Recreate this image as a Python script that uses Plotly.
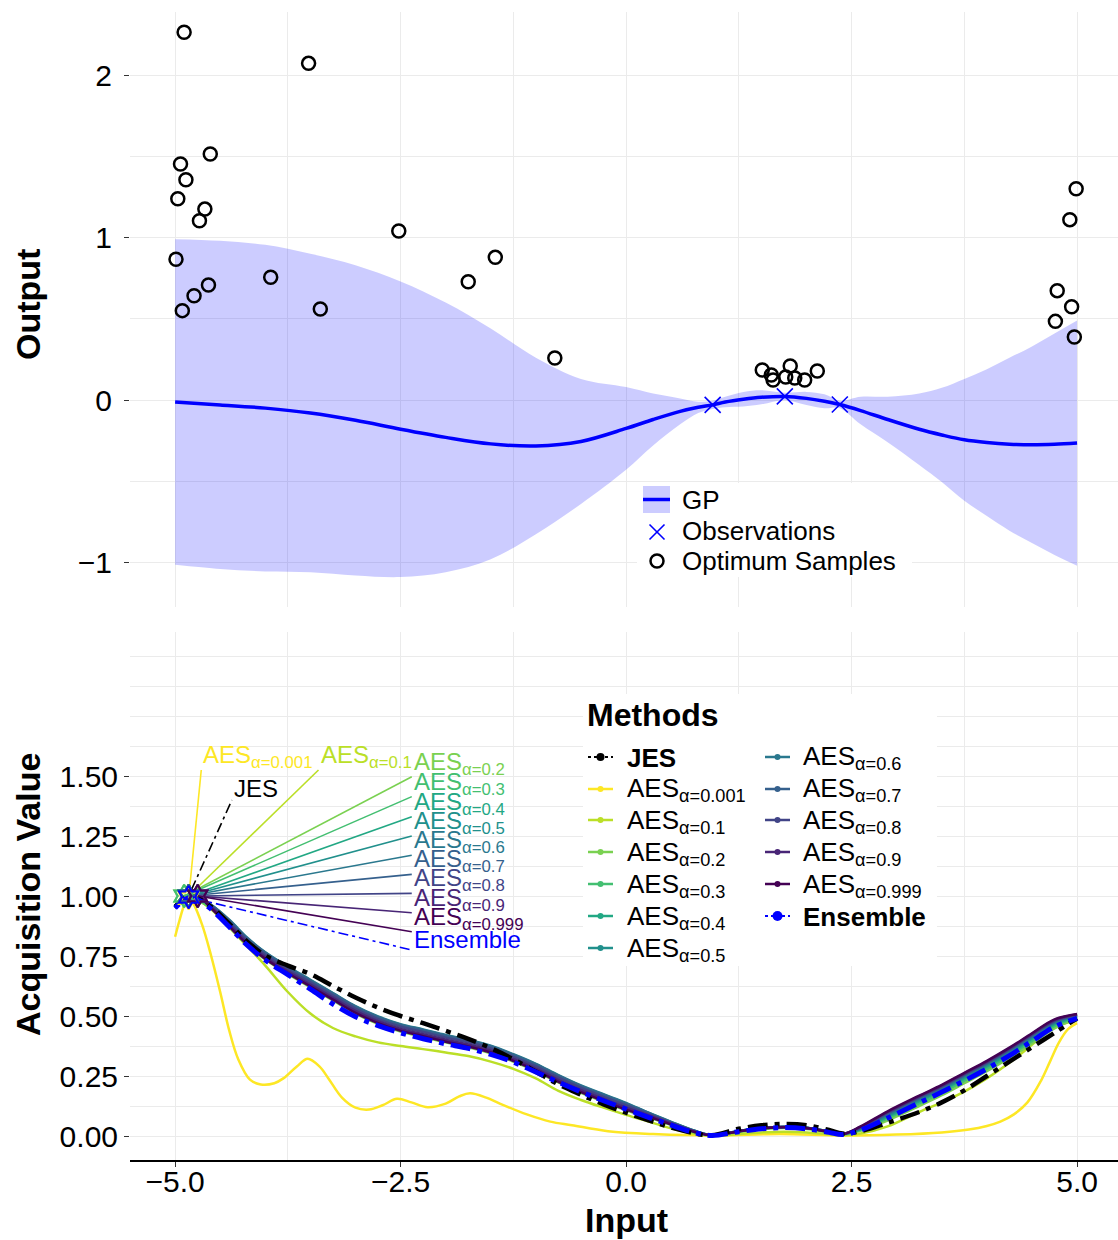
import numpy as np
import plotly.graph_objects as go

# ---------------- top panel data ----------------
gp_x = [-5.0, -4.5, -4.0, -3.5, -3.0, -2.5, -2.0, -1.5, -1.0, -0.5, 0.0, 0.3, 0.6, 0.8, 0.96,
        1.1, 1.3, 1.5, 1.76, 2.0, 2.2, 2.37, 2.6, 2.9, 3.25, 3.5, 3.75, 4.0, 4.25, 4.5, 4.75, 5.0]
gp_mean = [-0.012, -0.03, -0.05, -0.08, -0.125, -0.18, -0.23, -0.27, -0.283, -0.255, -0.175, -0.12,
           -0.07, -0.045, -0.03, -0.012, 0.005, 0.017, 0.022, 0.01, -0.008, -0.028, -0.065, -0.12,
           -0.18, -0.215, -0.245, -0.262, -0.272, -0.275, -0.272, -0.265]
gp_upper = [0.99, 0.98, 0.955, 0.9, 0.83, 0.73, 0.6, 0.44, 0.26, 0.13, 0.08, 0.04, 0.01, -0.01,
            -0.005, 0.02, 0.05, 0.06, 0.045, 0.05, 0.035, -0.005, 0.02, 0.02, 0.04, 0.075, 0.13,
            0.19, 0.26, 0.33, 0.41, 0.49]
gp_lower = [-1.014, -1.04, -1.055, -1.06, -1.08, -1.09, -1.06, -0.98, -0.826, -0.64, -0.43, -0.28,
            -0.15, -0.08, -0.055, -0.044, -0.04, -0.026, -0.001, -0.03, -0.051, -0.051, -0.15,
            -0.26, -0.4, -0.505, -0.62, -0.714, -0.804, -0.88, -0.954, -1.02]
obs_x = [0.96, 1.76, 2.37]
obs_y = [-0.03, 0.022, -0.028]
opt_x = [-4.90, -3.52, -4.61, -4.94, -4.88, -4.97, -4.67, -4.73, -2.52, -4.99, -1.45, -1.75, -4.63,
         -3.94, -4.79, -4.92, -3.39, -0.79, 1.51, 1.61, 1.63, 1.82, 1.77, 1.87, 1.98, 2.12,
         4.99, 4.92, 4.78, 4.94, 4.76, 4.97]
opt_y = [2.263, 2.072, 1.514, 1.452, 1.356, 1.239, 1.175, 1.103, 1.04, 0.866, 0.878, 0.728, 0.708,
         0.755, 0.642, 0.55, 0.56, 0.258, 0.185, 0.154, 0.123, 0.209, 0.142, 0.135, 0.123, 0.178,
         1.30, 1.11, 0.673, 0.574, 0.484, 0.388]

# ---------------- bottom panel data ----------------
acq_x = [-5.0, -4.9, -4.85, -4.75, -4.6, -4.4, -4.2, -4.0, -3.75, -3.5, -3.25, -3.0, -2.75, -2.5,
         -2.25, -2.0, -1.75, -1.5, -1.25, -1.0, -0.75, -0.5, -0.25, 0.0, 0.25, 0.5, 0.75, 0.95,
         1.25, 1.5, 1.75, 2.0, 2.25, 2.4, 2.6, 2.9, 3.25, 3.5, 3.75, 4.0, 4.25, 4.5, 4.75, 5.0]

aes001_x = [-5.0, -4.95, -4.9, -4.85, -4.8, -4.7, -4.6, -4.5, -4.4, -4.3, -4.17, -4.05, -3.9, -3.8,
            -3.65, -3.53, -3.4, -3.3, -3.15, -3.0, -2.85, -2.7, -2.54, -2.38, -2.2, -2.0, -1.85,
            -1.73, -1.55, -1.4, -1.1, -0.84, -0.6, -0.2, 0.3, 1.0, 1.7, 2.4, 3.0, 3.5, 3.8, 4.0,
            4.15, 4.3, 4.45, 4.6, 4.7, 4.8, 4.9, 5.0]
aes001_y = [0.83, 0.9, 0.96, 0.99, 0.97, 0.88, 0.75, 0.6, 0.44, 0.32, 0.235, 0.215, 0.22, 0.24,
            0.29, 0.322, 0.29, 0.24, 0.16, 0.118, 0.11, 0.128, 0.155, 0.14, 0.12, 0.135, 0.165,
            0.178, 0.16, 0.135, 0.09, 0.06, 0.045, 0.02, 0.008, 0.002, 0.008, 0.002, 0.006, 0.015,
            0.027, 0.042, 0.06, 0.09, 0.14, 0.23, 0.31, 0.39, 0.445, 0.47]

aes01_y = [0.955, 0.99, 1.0, 0.985, 0.945, 0.87, 0.79, 0.71, 0.6, 0.51, 0.45, 0.415, 0.39, 0.375,
           0.362, 0.348, 0.333, 0.31, 0.28, 0.24, 0.188, 0.15, 0.118, 0.088, 0.06, 0.032, 0.01,
           0.001, 0.008, 0.015, 0.018, 0.015, 0.007, 0.003, 0.01, 0.04, 0.1, 0.14, 0.185, 0.24,
           0.305, 0.38, 0.455, 0.48]
aes02_y = [0.96, 1.0, 0.995, 0.982, 0.948, 0.87, 0.795, 0.735, 0.675, 0.62, 0.565, 0.51, 0.467,
           0.435, 0.413, 0.39, 0.37, 0.345, 0.31, 0.27, 0.223, 0.18, 0.143, 0.107, 0.078, 0.045,
           0.015, 0.002, 0.017, 0.028, 0.033, 0.029, 0.015, 0.006, 0.022, 0.065, 0.125, 0.17,
           0.22, 0.27, 0.325, 0.385, 0.448, 0.49]
aes03_y = [0.958, 1.0, 0.997, 0.986, 0.952, 0.88, 0.805, 0.745, 0.685, 0.63, 0.575, 0.52, 0.477,
           0.445, 0.423, 0.4, 0.38, 0.355, 0.32, 0.28, 0.233, 0.19, 0.153, 0.117, 0.084, 0.05,
           0.018, 0.003, 0.019, 0.031, 0.036, 0.032, 0.017, 0.007, 0.026, 0.073, 0.135, 0.18,
           0.23, 0.28, 0.335, 0.395, 0.458, 0.495]
aes04_y = [0.96, 0.995, 1.0, 0.99, 0.959, 0.893, 0.818, 0.758, 0.698, 0.643, 0.588, 0.533, 0.49,
           0.458, 0.436, 0.413, 0.393, 0.368, 0.333, 0.293, 0.246, 0.203, 0.166, 0.13, 0.093,
           0.056, 0.022, 0.003, 0.021, 0.033, 0.038, 0.034, 0.019, 0.008, 0.028, 0.08, 0.144,
           0.189, 0.239, 0.289, 0.344, 0.404, 0.465, 0.498]
aes05_y = [0.96, 0.995, 1.0, 0.99, 0.962, 0.899, 0.824, 0.764, 0.704, 0.649, 0.594, 0.539, 0.496,
           0.464, 0.442, 0.419, 0.399, 0.374, 0.339, 0.299, 0.252, 0.209, 0.172, 0.136, 0.096,
           0.058, 0.023, 0.003, 0.021, 0.033, 0.038, 0.034, 0.019, 0.008, 0.03, 0.085, 0.15,
           0.195, 0.245, 0.295, 0.35, 0.41, 0.47, 0.5]
aes06_y = [0.96, 0.99, 1.0, 0.995, 0.963, 0.901, 0.826, 0.766, 0.706, 0.651, 0.596, 0.541, 0.498,
           0.466, 0.444, 0.421, 0.401, 0.376, 0.341, 0.301, 0.254, 0.211, 0.174, 0.138, 0.097,
           0.059, 0.023, 0.003, 0.021, 0.033, 0.038, 0.034, 0.019, 0.008, 0.032, 0.09, 0.155,
           0.2, 0.25, 0.3, 0.355, 0.415, 0.474, 0.502]
aes07_y = [0.955, 0.99, 1.0, 0.995, 0.961, 0.897, 0.822, 0.762, 0.702, 0.647, 0.592, 0.537, 0.494,
           0.462, 0.44, 0.417, 0.397, 0.372, 0.337, 0.297, 0.25, 0.207, 0.17, 0.134, 0.095,
           0.057, 0.022, 0.003, 0.02, 0.032, 0.037, 0.033, 0.018, 0.008, 0.034, 0.094, 0.159,
           0.204, 0.254, 0.304, 0.359, 0.419, 0.477, 0.503]
aes08_y = [0.955, 0.985, 0.995, 1.0, 0.958, 0.89, 0.815, 0.755, 0.695, 0.64, 0.585, 0.53, 0.487,
           0.455, 0.433, 0.41, 0.39, 0.365, 0.33, 0.29, 0.243, 0.2, 0.163, 0.127, 0.091, 0.055,
           0.021, 0.003, 0.02, 0.032, 0.037, 0.033, 0.018, 0.008, 0.036, 0.097, 0.162, 0.207,
           0.257, 0.307, 0.362, 0.422, 0.48, 0.505]
aes09_y = [0.95, 0.985, 0.995, 1.0, 0.953, 0.881, 0.806, 0.746, 0.686, 0.631, 0.576, 0.521, 0.478,
           0.446, 0.424, 0.401, 0.381, 0.356, 0.321, 0.281, 0.234, 0.191, 0.154, 0.118, 0.086,
           0.052, 0.02, 0.003, 0.02, 0.032, 0.037, 0.033, 0.018, 0.008, 0.038, 0.1, 0.165, 0.21,
           0.26, 0.31, 0.365, 0.425, 0.483, 0.507]
aes0999_y = [0.95, 0.98, 0.99, 1.0, 0.949, 0.873, 0.798, 0.738, 0.678, 0.623, 0.568, 0.513, 0.47,
             0.438, 0.416, 0.393, 0.373, 0.348, 0.313, 0.273, 0.226, 0.183, 0.146, 0.11, 0.08,
             0.048, 0.018, 0.003, 0.019, 0.031, 0.036, 0.032, 0.017, 0.007, 0.04, 0.103, 0.168,
             0.213, 0.263, 0.313, 0.368, 0.428, 0.486, 0.508]
jes_y = [0.955, 0.99, 1.0, 0.99, 0.955, 0.885, 0.81, 0.752, 0.71, 0.675, 0.625, 0.577, 0.535, 0.5,
         0.47, 0.438, 0.405, 0.366, 0.32, 0.268, 0.215, 0.172, 0.132, 0.097, 0.065, 0.036, 0.012,
         0.003, 0.03, 0.045, 0.05, 0.045, 0.025, 0.01, 0.02, 0.055, 0.1, 0.14, 0.19, 0.25, 0.31,
         0.37, 0.43, 0.49]
ens_y = [0.95, 0.985, 0.995, 0.985, 0.945, 0.872, 0.795, 0.733, 0.672, 0.612, 0.55, 0.497, 0.46,
         0.43, 0.405, 0.384, 0.365, 0.34, 0.308, 0.267, 0.224, 0.184, 0.147, 0.112, 0.078, 0.045,
         0.015, 0.002, 0.018, 0.03, 0.035, 0.03, 0.015, 0.006, 0.025, 0.075, 0.138, 0.183, 0.23,
         0.28, 0.335, 0.395, 0.455, 0.49]

alpha_labels = ["0.001", "0.1", "0.2", "0.3", "0.4", "0.5", "0.6", "0.7", "0.8", "0.9", "0.999"]
aes_series = [aes001_y, aes01_y, aes02_y, aes03_y, aes04_y, aes05_y, aes06_y, aes07_y, aes08_y,
              aes09_y, aes0999_y]
top_legend_labels = ["GP", "Observations", "Optimum Samples"]
x_ticks = [-5, -2.5, 0, 2.5, 5]
y_ticks_top = [-1, 0, 1, 2]
y_ticks_bottom = [0, 0.25, 0.5, 0.75, 1.0, 1.25, 1.5]

# ---------------- styles / positions ----------------
viridis = ["#FDE725", "#BBDF27", "#7AD151", "#43BF71", "#22A884", "#21908C", "#2A788E",
           "#35608D", "#414487", "#482576", "#440154"]
label_end = {  # leader-line end (label anchor) in data units of the lower panel
    "JES": (-4.37, 1.40),
    "0.001": (-4.71, 1.525), "0.1": (-3.41, 1.525),
    "0.2": (-2.376, 1.497), "0.3": (-2.376, 1.414), "0.4": (-2.376, 1.33),
    "0.5": (-2.376, 1.25), "0.6": (-2.376, 1.17), "0.7": (-2.376, 1.09),
    "0.8": (-2.376, 1.011), "0.9": (-2.376, 0.93), "0.999": (-2.376, 0.851),
    "Ensemble": (-2.376, 0.775),
}
FONT = "Liberation Sans, Arial, sans-serif"
GRID = "#EBEBEB"
dotdash_big = "5px,7px,20px,7px"
dotdash_small = "3px,4px,10px,4px"

L, W, T, H = 130, 988, 12, 1148   # plot area in pixels


def px(xp):
    return (xp - L) / W


def py(yp):
    return (T + H - yp) / H


fig = go.Figure()

# ---------- top panel ----------
fig.add_trace(go.Scatter(x=gp_x, y=gp_lower, mode="lines", line=dict(width=0, shape="spline"),
                         hoverinfo="skip", xaxis="x", yaxis="y"))
fig.add_trace(go.Scatter(x=gp_x, y=gp_upper, mode="lines", line=dict(width=0, shape="spline"),
                         fill="tonexty", fillcolor="rgba(0,0,255,0.2)",
                         hoverinfo="skip", xaxis="x", yaxis="y"))
fig.add_trace(go.Scatter(x=gp_x, y=gp_mean, mode="lines", name="GP",
                         line=dict(color="#0000FF", width=3.5, shape="spline"),
                         xaxis="x", yaxis="y"))
fig.add_trace(go.Scatter(x=obs_x, y=obs_y, mode="markers", name="Observations",
                         marker=dict(symbol="x-thin-open", size=16, color="#0000FF",
                                     line=dict(color="#0000FF", width=1.6)),
                         xaxis="x", yaxis="y"))
fig.add_trace(go.Scatter(x=opt_x, y=opt_y, mode="markers", name="Optimum Samples",
                         marker=dict(symbol="circle-open", size=13, color="black",
                                     line=dict(color="black", width=2.5)),
                         xaxis="x", yaxis="y"))

# ---------- bottom panel curves ----------
fig.add_trace(go.Scatter(x=aes001_x, y=aes001_y, mode="lines",
                         line=dict(color=viridis[0], width=2.5, shape="spline"),
                         xaxis="x2", yaxis="y2"))
for i in range(1, len(alpha_labels)):
    fig.add_trace(go.Scatter(x=acq_x, y=aes_series[i], mode="lines",
                             line=dict(color=viridis[i], width=2.5, shape="spline"),
                             xaxis="x2", yaxis="y2"))
fig.add_trace(go.Scatter(x=acq_x, y=jes_y, mode="lines",
                         line=dict(color="black", width=4.5, dash=dotdash_big, shape="spline"),
                         xaxis="x2", yaxis="y2"))
fig.add_trace(go.Scatter(x=acq_x, y=ens_y, mode="lines",
                         line=dict(color="#0000FF", width=5, dash=dotdash_big, shape="spline"),
                         xaxis="x2", yaxis="y2"))

# ---------- leader lines, stars, labels ----------
methods = [("JES", acq_x, jes_y, "black", "<b>JES</b>")]
for i, a in enumerate(alpha_labels):
    xs = aes001_x if i == 0 else acq_x
    methods.append((a, xs, aes_series[i], viridis[i], "AES<sub>α=" + a + "</sub>"))
methods.append(("Ensemble", acq_x, ens_y, "#0000FF", "<b>Ensemble</b>"))

annotations = []
for key, xs, ys, col, lg in methods:
    k = int(np.argmax(ys))
    sx, sy = xs[k], ys[k]
    ex, ey = label_end[key]
    dash = dotdash_small if key in ("JES", "Ensemble") else "solid"
    fig.add_trace(go.Scatter(x=[sx, ex], y=[sy, ey], mode="lines",
                             line=dict(color=col, width=1.6, dash=dash),
                             hoverinfo="skip", xaxis="x2", yaxis="y2"))
    txt = lg.replace("<b>", "").replace("</b>", "")
    annotations.append(dict(x=ex, y=ey, xref="x2", yref="y2", text=txt, showarrow=False,
                            xanchor="left", yanchor="bottom", xshift=0,
                            yshift=-5 if key == "Ensemble" else -4,
                            font=dict(size=24, color=col, family=FONT)))
for key, xs, ys, col, lg in methods:
    k = int(np.argmax(ys))
    fig.add_trace(go.Scatter(x=[xs[k]], y=[ys[k]], mode="markers",
                             marker=dict(symbol="hexagram-open", size=17, color=col,
                                         line=dict(color=col, width=2)),
                             hoverinfo="skip", xaxis="x2", yaxis="y2"))

# ---------- axis titles ----------
for text, xp, yp, ang in [("<b>Output</b>", 28, 305, -90),
                          ("<b>Acquisition Value</b>", 28, 895, -90),
                          ("<b>Input</b>", 626, 1220, 0)]:
    annotations.append(dict(text=text, x=px(xp), y=py(yp), xref="paper", yref="paper",
                            showarrow=False, textangle=ang, xanchor="center", yanchor="middle",
                            font=dict(size=34, family=FONT, color="black")))

shapes = []
# ---------- top legend (drawn key by key) ----------
shapes.append(dict(type="rect", xref="paper", yref="paper", x0=px(637), x1=px(912),
                   y0=py(577), y1=py(483), fillcolor="white", line=dict(width=0), layer="above"))
shapes.append(dict(type="rect", xref="paper", yref="paper", x0=px(643), x1=px(670),
                   y0=py(513), y1=py(486), fillcolor="rgba(0,0,255,0.2)", line=dict(width=0),
                   layer="above"))
shapes.append(dict(type="line", xref="paper", yref="paper", x0=px(643), x1=px(670),
                   y0=py(499.5), y1=py(499.5), line=dict(color="#0000FF", width=3.5),
                   layer="above"))
for (x0, y0, x1, y1) in [(649.5, 524.5, 664.5, 539.5), (649.5, 539.5, 664.5, 524.5)]:
    shapes.append(dict(type="line", xref="paper", yref="paper", x0=px(x0), x1=px(x1),
                       y0=py(y0), y1=py(y1), line=dict(color="#0000FF", width=1.6),
                       layer="above"))
shapes.append(dict(type="circle", xref="paper", yref="paper", x0=px(650.5), x1=px(663.5),
                   y0=py(567.5), y1=py(554.5), line=dict(color="black", width=2.5),
                   layer="above"))
for lab, yp in zip(top_legend_labels, [499.5, 531, 561]):
    annotations.append(dict(text=lab, x=px(680), y=py(yp), xref="paper", yref="paper",
                            showarrow=False, xanchor="left", yanchor="middle",
                            font=dict(size=26, family=FONT, color="black")))

# ---------- bottom legend "Methods" ----------
shapes.append(dict(type="rect", xref="paper", yref="paper", x0=px(583), x1=px(937),
                   y0=py(966), y1=py(694), fillcolor="white", line=dict(width=0), layer="above"))
annotations.append(dict(text="<b>Methods</b>", x=px(585), y=py(715), xref="paper", yref="paper",
                        showarrow=False, xanchor="left", yanchor="middle",
                        font=dict(size=32, family=FONT, color="black")))
rows = [757, 789, 820, 852, 884, 916, 948]
for j, (key, xs, ys, col, lg) in enumerate(methods):
    if j < 7:
        ry, lx0, tx = rows[j], 588, 625
    else:
        ry, lx0, tx = rows[j - 7], 765, 801
    if key in ("JES", "Ensemble"):
        ldash, lw, dot = "3px,3px,8px,3px", 2, (4 if key == "JES" else 5)
    else:
        ldash, lw, dot = "solid", 2.5, 3
    shapes.append(dict(type="line", xref="paper", yref="paper", x0=px(lx0), x1=px(lx0 + 25),
                       y0=py(ry), y1=py(ry), line=dict(color=col, width=lw, dash=ldash),
                       layer="above"))
    cx = lx0 + 12.5
    shapes.append(dict(type="circle", xref="paper", yref="paper", x0=px(cx - dot),
                       x1=px(cx + dot), y0=py(ry + dot), y1=py(ry - dot), fillcolor=col,
                       line=dict(width=0), layer="above"))
    annotations.append(dict(text=lg, x=px(tx), y=py(ry), xref="paper", yref="paper",
                            showarrow=False, xanchor="left", yanchor="middle", yshift=-1,
                            font=dict(size=26, family=FONT, color="black")))

tickfont = dict(size=30, family=FONT, color="black")
fig.update_layout(
    width=1118, height=1240,
    margin=dict(l=L, r=0, t=T, b=80),
    paper_bgcolor="white", plot_bgcolor="white",
    font=dict(family=FONT, color="black"),
    showlegend=False,
    xaxis=dict(domain=[0, 1], anchor="y", range=[-5.5, 5.454], tickvals=x_ticks,
               showticklabels=False, ticks="", showgrid=True, gridcolor=GRID, gridwidth=1.3,
               zeroline=False, showline=False,
               minor=dict(tickvals=[-3.75, -1.25, 1.25, 3.75], showgrid=True, gridcolor=GRID,
                          gridwidth=1)),
    yaxis=dict(domain=[(1160 - 607) / H, 1], anchor="x", range=[-1.274, 2.388],
               tickvals=y_ticks_top, ticks="outside", ticklen=5, tickcolor="#333333",
               ticklabelstandoff=6,
               tickfont=tickfont, showgrid=True, gridcolor=GRID, gridwidth=1.3, zeroline=False,
               minor=dict(tickvals=[-0.5, 0.5, 1.5], showgrid=True, gridcolor=GRID, gridwidth=1)),
    xaxis2=dict(domain=[0, 1], anchor="y2", range=[-5.5, 5.454], matches="x",
                tickvals=x_ticks, tickformat=".1f", ticks="outside", ticklen=5,
                ticklabelstandoff=-11,
                tickcolor="#333333", tickfont=tickfont, showgrid=True, gridcolor=GRID,
                gridwidth=1.3, zeroline=False, showline=True, linecolor="black", linewidth=2,
                minor=dict(tickvals=[-3.75, -1.25, 1.25, 3.75], showgrid=True, gridcolor=GRID,
                           gridwidth=1)),
    yaxis2=dict(domain=[0, (1160 - 632) / H], anchor="x2", range=[-0.1, 2.1],
                tickvals=y_ticks_bottom, tickformat=".2f",
                ticks="outside", ticklen=5, tickcolor="#333333", tickfont=tickfont,
                showgrid=True, gridcolor=GRID, gridwidth=1.3, zeroline=False,
                minor=dict(tickvals=[0.125, 0.375, 0.625, 0.875, 1.125, 1.375, 1.625, 1.75,
                                     1.875, 2.0],
                           showgrid=True, gridcolor=GRID, gridwidth=1)),
    annotations=annotations,
    shapes=shapes,
)

fig.write_html("out.html")
